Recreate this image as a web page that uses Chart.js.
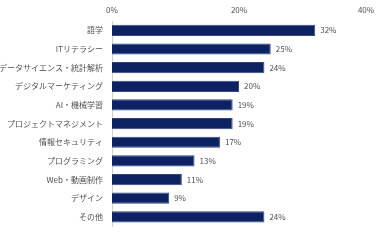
<!DOCTYPE html>
<html>
<head>
<meta charset="UTF-8">
<title>学びたいスキル</title>
<style>
html, body {
	margin: 0;
	padding: 0;
	background: #fff;
}
.chart-container {
	width: 384px;
	height: 240px;
}
</style>
<script src="https://cdn.jsdelivr.net/npm/chart.js"></script>
</head>
<body>
	<div class="chart-container">
		<canvas id="bar-chart"></canvas>
	</div>

	<script>
		const categories = [ '語学', 'ITリテラシー', 'データサイエンス・統計解析', 'デジタルマーケティング',
				'AI・機械学習', 'プロジェクトマネジメント', '情報セキュリティ', 'プログラミング',
				'Web・動画制作', 'デザイン', 'その他' ];
		const values = [ 32, 25, 24, 20, 19, 19, 17, 13, 11, 9, 24 ];
		const xTicks = [ 0, 20, 40 ];

		Chart.defaults.font.family = "'Noto Sans CJK JP', 'Noto Sans', sans-serif";
		Chart.defaults.font.size = 8;
		Chart.defaults.color = '#505050';

		// バーの右に値ラベルを描く
		const valueLabels = {
			id : 'valueLabels',
			afterDatasetsDraw(chart) {
				const c = chart.ctx;
				const meta = chart.getDatasetMeta(0);
				c.save();
				c.font = "8px 'Noto Sans CJK JP', 'Noto Sans', sans-serif";
				c.fillStyle = '#505050';
				c.textAlign = 'left';
				c.textBaseline = 'middle';
				meta.data.forEach(function(bar, i) {
					c.fillText(values[i] + '%', bar.x + 5, bar.y);
				});
				c.restore();
			}
		};

		let config = {
			type : 'bar',
			data : {
				labels : categories,
				datasets : [ {
					data : values,
					backgroundColor : '#0c2262',
					borderColor : '#34477f',
					borderWidth : 1,
					barPercentage : 0.6,
					categoryPercentage : 1.0
				} ]
			},
			plugins : [ valueLabels ],
			options : {
				indexAxis : 'y',
				responsive : true,
				maintainAspectRatio : false,
				animation : false,
				layout : {
					padding : { top : 0, right : 18, bottom : 9, left : 0 }
				},
				plugins : {
					legend : { display : false },
					tooltip : { enabled : false }
				},
				scales : {
					x : {
						position : 'top',
						min : 0,
						max : 40,
						afterBuildTicks(scale) {
							scale.ticks = xTicks.map(v => ({ value : v }));
						},
						afterFit(scale) {
							scale.height = 21;
						},
						ticks : {
							padding : 6,
							callback : v => v + '%'
						},
						grid : { display : false, drawTicks : false },
						border : { display : false }
					},
					y : {
						afterFit(scale) {
							scale.width = 112;
						},
						ticks : { padding : 9 },
						grid : { display : false, drawTicks : false },
						border : { display : true, color : '#d0d0d0', width : 1 }
					}
				}
			}
		};
		new Chart(document.querySelector('#bar-chart'), config);
	</script>
</body>
</html>
